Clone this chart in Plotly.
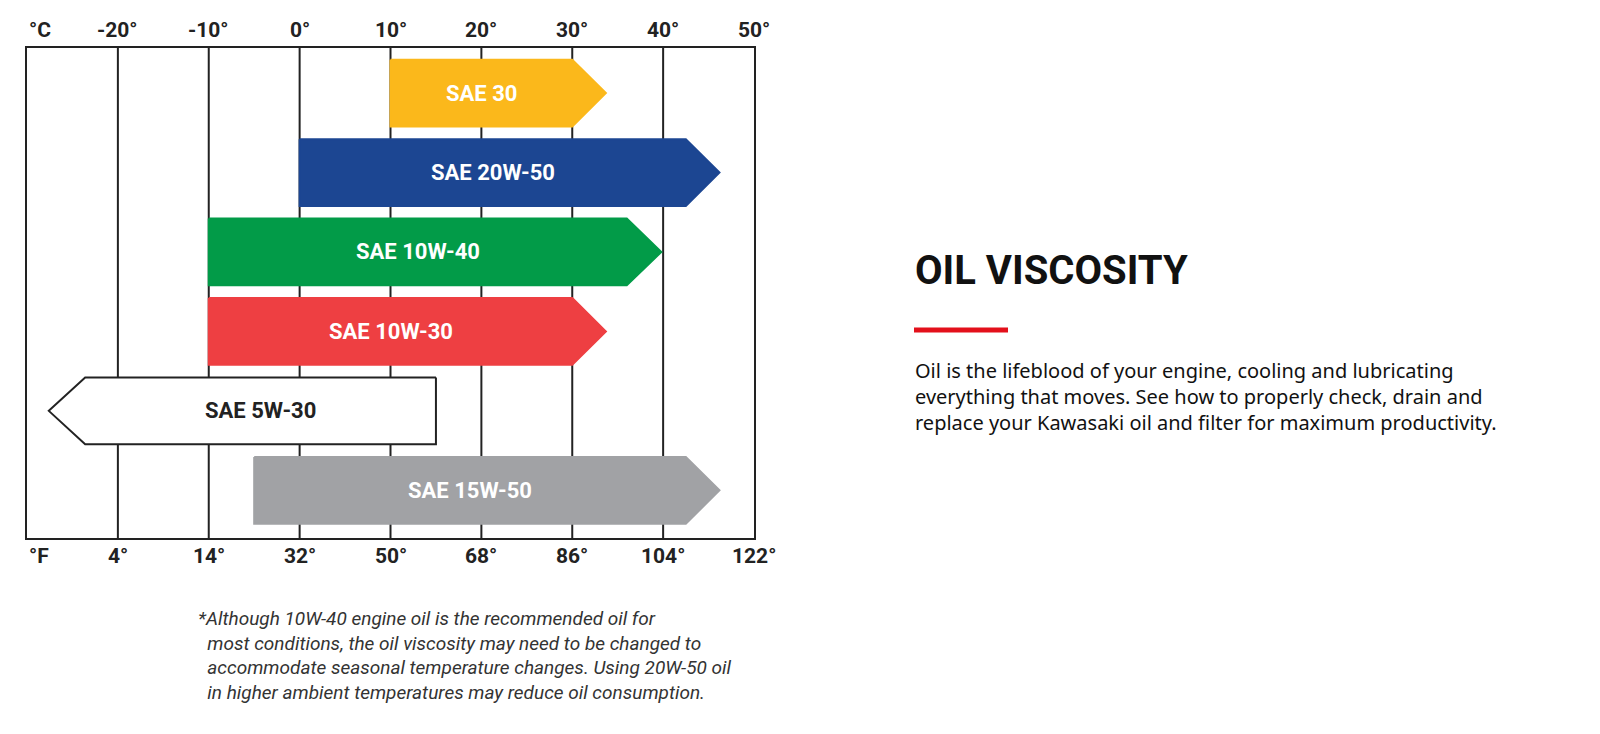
import plotly.graph_objects as go

# oil grades, temperature ranges in °C (start, arrow base, tip)
grades = ["SAE 30", "SAE 20W-50", "SAE 10W-40", "SAE 10W-30", "SAE 5W-30", "SAE 15W-50"]
starts = [10, 0, -10, -10, 15, -5]
bases = [30, 42.5, 36, 30, -23.6, 42.5]
tips = [33.7, 46.2, 39.8, 33.7, -27.6, 46.2]
colors = ["#fbb81b", "#1c4692", "#029b48", "#ee3f42", "#ffffff", "#a1a2a5"]
text_colors = ["white", "white", "white", "white", "#222222", "white"]

c_ticks = [-20, -10, 0, 10, 20, 30, 40, 50]
f_labels = ["4°", "14°", "32°", "50°", "68°", "86°", "104°", "122°"]

COND = "Roboto, sans-serif"
H = 0.42

fig = go.Figure()
for i, g in enumerate(grades):
    xs = [starts[i], bases[i], tips[i], bases[i], starts[i], starts[i]]
    ys = [i - H, i - H, i, i + H, i + H, i - H]
    fig.add_trace(go.Scatter(x=xs, y=ys, fill="toself", fillcolor=colors[i], mode="lines",
                             line=dict(color="#222222" if colors[i] == "#ffffff" else colors[i], width=2),
                             hoverinfo="skip", showlegend=False))
    fig.add_annotation(x=(starts[i] + bases[i]) / 2, y=i, text="<b>%s</b>" % g,
                       showarrow=False, font=dict(family=COND, size=22, color=text_colors[i]))

for t in c_ticks[:-1]:
    fig.add_shape(type="line", x0=t, x1=t, y0=-0.567, y1=5.6, line=dict(color="#222222", width=2), layer="below")

annots = [("°C", -30, 1.0, "bottom"), ("°F", -30, 0.0, "top")]
for t in c_ticks:
    annots.append(("%d°" % t, t, 1.0, "bottom"))
for t, l in zip(c_ticks, f_labels):
    annots.append((l, t, 0.0, "top"))
for txt, x, y, ya in annots:
    fig.add_annotation(x=x, y=y, yref="y domain", text="<b>%s</b>" % txt, showarrow=False,
                       yanchor=ya, xanchor="left" if x == -30 else "center", yshift=4 if ya == "bottom" else -4,
                       font=dict(family=COND, size=21, color="#222222"))

fig.add_annotation(xref="paper", yref="paper", x=188 / 1600, y=1 - 597 / 734, xanchor="left", yanchor="top",
                   align="left", showarrow=False,
                   text="<i>*Although 10W-40 engine oil is the recommended oil for<br>"
                        "  most conditions, the oil viscosity may need to be changed to<br>"
                        "  accommodate seasonal temperature changes. Using 20W-50 oil<br>"
                        "  in higher ambient temperatures may reduce oil consumption.</i>",
                   font=dict(family=COND, size=19, color="#333333"))

fig.add_annotation(xref="paper", yref="paper", x=905 / 1600, y=1 - 262 / 734, xanchor="left", yanchor="middle",
                   showarrow=False, text="<b>OIL VISCOSITY</b>",
                   font=dict(family=COND, size=40, color="#111111"))
fig.add_shape(type="line", xref="paper", yref="paper", x0=906 / 1600, x1=1000 / 1600,
              y0=1 - 322 / 734, y1=1 - 322 / 734, line=dict(color="#e3101b", width=5))
fig.add_annotation(xref="paper", yref="paper", x=905 / 1600, y=1 - 347 / 734, xanchor="left", yanchor="top",
                   align="left", showarrow=False,
                   text="Oil is the lifeblood of your engine, cooling and lubricating<br>"
                        "everything that moves. See how to properly check, drain and<br>"
                        "replace your Kawasaki oil and filter for maximum productivity.",
                   font=dict(family="Noto Sans, sans-serif", size=20, color="#111111"))

fig.update_layout(
    width=1600, height=734, margin=dict(l=0, r=0, t=0, b=0),
    plot_bgcolor="white", paper_bgcolor="white",
    xaxis=dict(range=[-30, 50], domain=[19 / 1600, 746 / 1600], showgrid=False, zeroline=False,
               showticklabels=False, showline=True, mirror=True, linecolor="#222222", linewidth=2),
    yaxis=dict(range=[5.6, -0.567], domain=[1 - 530 / 734, 1 - 40 / 734], showgrid=False, zeroline=False,
               showticklabels=False, showline=True, mirror=True, linecolor="#222222", linewidth=2),
)
fig.write_html("out.html")
